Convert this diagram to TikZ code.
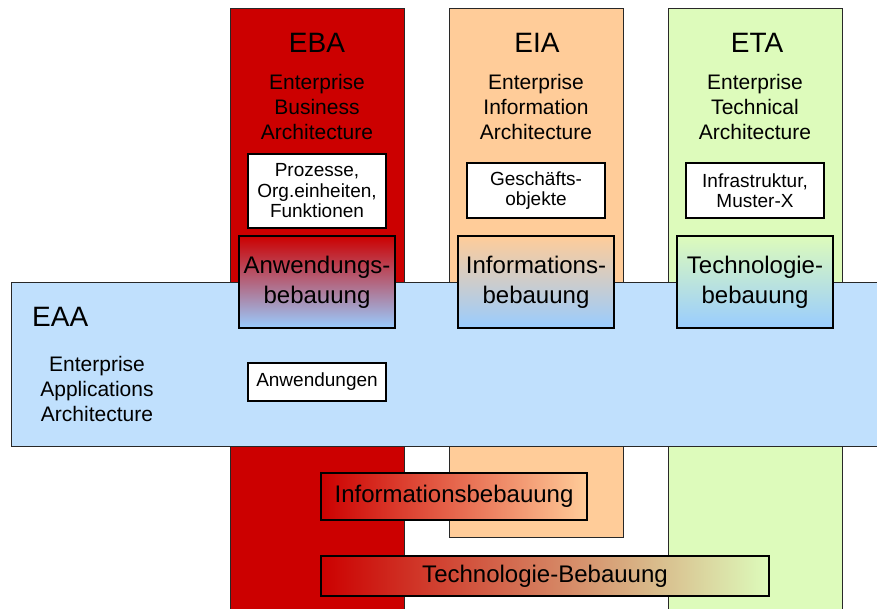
\documentclass[tikz,border=0pt]{standalone}
\usepackage{fontspec}
\setmainfont{Liberation Sans}
\definecolor{ebared}{RGB}{204,0,0}
\definecolor{eiapeach}{RGB}{255,204,153}
\definecolor{etagreen}{RGB}{221,251,187}
\definecolor{eaablue}{RGB}{192,224,253}
\definecolor{gradblue}{RGB}{153,204,255}
\definecolor{edge}{RGB}{40,40,40}
\tikzset{
  colbox/.style={draw=edge, line width=1pt, inner sep=0pt, anchor=north west},
  whitebox/.style={draw=black, line width=1.2pt, fill=white, inner sep=0pt,
    minimum width=138pt, align=center, font=\fontsize{19}{20.5}\selectfont},
  gradbox/.style={draw=black, line width=1.6pt, inner sep=0pt,
    minimum width=156pt, minimum height=92pt, align=center,
    bottom color=gradblue, font=\fontsize{24}{30}\selectfont},
  barbox/.style={draw=black, line width=1.6pt, inner sep=0pt,
    left color=ebared, font=\fontsize{24}{30}\selectfont},
  title/.style={anchor=base, inner sep=0pt, font=\fontsize{28}{30}\selectfont},
  subtitle/.style={anchor=north, inner sep=0pt, align=center,
    font=\fontsize{21}{25}\selectfont},
}
\begin{document}
\begin{tikzpicture}[x=1pt, y=-1pt]
\useasboundingbox (0,0) rectangle (877,608);
\clip (0,0) rectangle (877,608);

% the three vertical architecture columns
\node[colbox, fill=ebared, minimum width=174pt, minimum height=620pt] (eba) at (230,8) {};
\node[colbox, fill=eiapeach, minimum width=174pt, minimum height=529pt] (eia) at (449,8) {};
\node[colbox, fill=etagreen, minimum width=174pt, minimum height=620pt] (eta) at (668,8) {};

% column headings
\node[title] (ebat) at (317,52) {EBA};
\node[title] (eiat) at (537,52) {EIA};
\node[title] (etat) at (757,52) {ETA};
\node[subtitle] (ebas) at (317,74) {Enterprise\\Business\\Architecture};
\node[subtitle] (eias) at (536,74) {Enterprise\\Information\\Architecture};
\node[subtitle] (etas) at (755,74) {Enterprise\\Technical\\Architecture};

% content boxes of the columns
\node[whitebox, minimum height=74pt] (proz) at (317,191) {Prozesse,\\Org.einheiten,\\Funktionen};
\node[whitebox, minimum height=55pt] (geo) at (536,190.5) {Gesch\"afts-\\objekte};
\node[whitebox, minimum height=55pt] (infra) at (755,190.5) {Infrastruktur,\\Muster-X};

% horizontal application band
\node[colbox, fill=eaablue, minimum width=900pt, minimum height=164pt] (eaa) at (11,282) {};
\node[title, anchor=base west] (eaat) at (32,326) {EAA};
\node[subtitle] (eaas) at (97,356) {Enterprise\\Applications\\Architecture};
\node[whitebox, minimum height=38pt] (anw) at (317,382) {Anwendungen};

% overlap boxes where the band crosses the columns
\node[gradbox, top color=ebared] (anwb) at (317,282) {Anwendungs-\\bebauung};
\node[gradbox, top color=eiapeach] (infb) at (536,282) {Informations-\\bebauung};
\node[gradbox, top color=etagreen] (techb) at (755,282) {Technologie-\\bebauung};

% cross-cutting bars below the band
\node[barbox, right color=eiapeach, minimum width=266pt, minimum height=47pt] (infbar) at (454,496.5) {Informationsbebauung};
\node[barbox, right color=etagreen, minimum width=448pt, minimum height=40pt] (techbar) at (545,576) {Technologie-Bebauung};
\end{tikzpicture}
\end{document}
